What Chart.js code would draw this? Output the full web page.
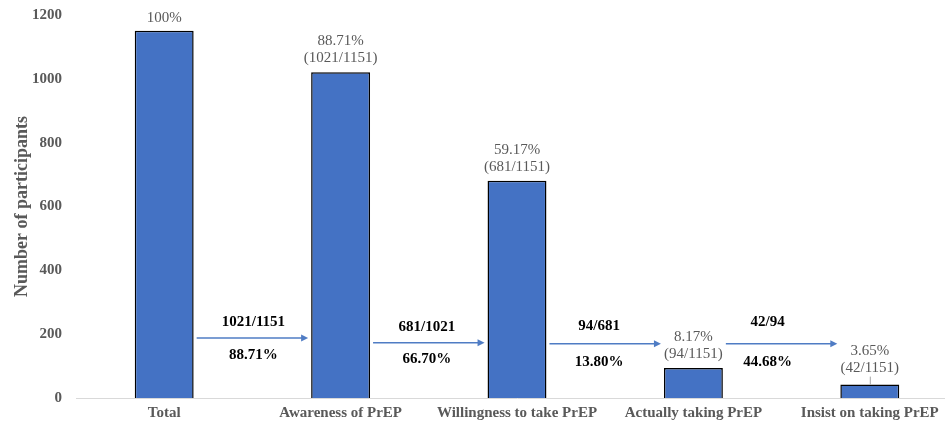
<!DOCTYPE html>
<html>
<head>
<meta charset="utf-8">
<script src="https://cdn.jsdelivr.net/npm/chart.js@4"></script>
<style>
  html, body { margin: 0; padding: 0; background: #fff; overflow: hidden; }
  #wrap { width: 960px; height: 424px; position: relative; }
</style>
</head>
<body>
<div id="wrap"><canvas id="c"></canvas></div>
<script>
// Care cascade stages and number of participants at each stage
const stages = ['Total', 'Awareness of PrEP', 'Willingness to take PrEP', 'Actually taking PrEP', 'Insist on taking PrEP'];
const participants = [1151, 1021, 681, 94, 42];
const yTickValues = [0, 200, 400, 600, 800, 1000, 1200];

const GRAY = '#595959';
const BLUE = '#4472C4';
const SERIF = '"Liberation Serif", "Times New Roman", serif';

const pct = (a, b) => (a / b * 100).toFixed(2) + '%';

// Value labels above bars and step-to-step arrows between bars
const cascadePlugin = {
  id: 'cascade',
  afterDatasetsDraw(chart, args, opts) {
    const ctx = chart.ctx;
    const meta = chart.getDatasetMeta(0);
    const y = chart.scales.y;
    const total = participants[0];
    ctx.save();
    ctx.textAlign = 'center';
    ctx.textBaseline = 'middle';

    // labels above each bar
    ctx.font = '15px ' + SERIF;
    ctx.fillStyle = GRAY;
    meta.data.forEach((bar, i) => {
      const lift = opts.labelLift[i] || 0;
      const top = bar.y - lift;
      if (i === 0) {
        ctx.fillText('100%', bar.x, top - 13);
      } else {
        ctx.fillText(pct(participants[i], total), bar.x, top - 31);
        ctx.fillText('(' + participants[i] + '/' + total + ')', bar.x, top - 14);
      }
      if (lift > 0) {
        ctx.strokeStyle = '#A6A6A6';
        ctx.lineWidth = 1;
        ctx.beginPath();
        ctx.moveTo(bar.x + 0.5, bar.y - lift - 5);
        ctx.lineTo(bar.x + 0.5, bar.y);
        ctx.stroke();
      }
    });

    // arrows between consecutive stages
    for (let i = 0; i < participants.length - 1; i++) {
      const a = meta.data[i], b = meta.data[i + 1];
      const x0 = a.x + a.width / 2 + 3;
      const x1 = b.x - b.width / 2 - 3;
      const ay = y.getPixelForValue(opts.arrowLevels[i]);
      ctx.strokeStyle = '#4F7CC4';
      ctx.fillStyle = '#4F7CC4';
      ctx.lineWidth = 1.6;
      ctx.beginPath();
      ctx.moveTo(x0, ay);
      ctx.lineTo(x1 - 6, ay);
      ctx.stroke();
      ctx.beginPath();
      ctx.moveTo(x1, ay);
      ctx.lineTo(x1 - 7, ay - 3.5);
      ctx.lineTo(x1 - 7, ay + 3.5);
      ctx.closePath();
      ctx.fill();

      const cx = (x0 + x1) / 2 + opts.captionShift[i];
      ctx.fillStyle = '#000';
      ctx.font = 'bold 15px ' + SERIF;
      ctx.fillText(participants[i + 1] + '/' + participants[i], cx, ay - opts.captionGap[i][0]);
      ctx.fillText(pct(participants[i + 1], participants[i]), cx, ay + opts.captionGap[i][1]);
    }
    ctx.restore();
  }
};

new Chart(document.getElementById('c'), {
  type: 'bar',
  data: {
    labels: stages,
    datasets: [{
      data: participants,
      backgroundColor: BLUE,
      borderColor: '#000',
      borderWidth: 1.5,
      borderSkipped: 'bottom',
      barPercentage: 0.334,
      categoryPercentage: 1
    }]
  },
  options: {
    responsive: true,
    maintainAspectRatio: false,
    animation: false,
    events: [],
    layout: { padding: { top: 15, right: 2, left: 0, bottom: 0 } },
    plugins: {
      legend: { display: false },
      tooltip: { enabled: false },
      cascade: {
        arrowLevels: [188, 173, 170, 170],
        captionGap: [[16, 17], [16, 16], [18, 18], [22, 18]],
        captionShift: [1, -2, -6, -14],
        labelLift: [0, 0, 0, 0, 3]
      }
    },
    scales: {
      x: {
        afterFit: s => { s.height = 26; },
        grid: { display: false, drawTicks: false },
        border: { display: true, color: '#D9D9D9', width: 1 },
        ticks: { color: GRAY, font: { family: SERIF, size: 15, weight: 'bold' }, padding: 6, maxRotation: 0, autoSkip: false }
      },
      y: {
        min: 0,
        max: 1200,
        afterBuildTicks: s => { s.ticks = yTickValues.map(v => ({ value: v })); },
        afterFit: s => { s.width = 76; s.paddingTop = 0; s.paddingBottom = 0; },
        grid: { display: false, drawTicks: false },
        border: { display: false },
        ticks: { color: GRAY, font: { family: SERIF, size: 15, weight: 'bold' }, padding: 14, callback: v => String(v) },
        title: {
          display: true,
          text: 'Number of participants',
          color: GRAY,
          font: { family: SERIF, size: 18, weight: 'bold' },
          padding: { top: 12, bottom: 0 }
        }
      }
    }
  },
  plugins: [cascadePlugin]
});
</script>
</body>
</html>
